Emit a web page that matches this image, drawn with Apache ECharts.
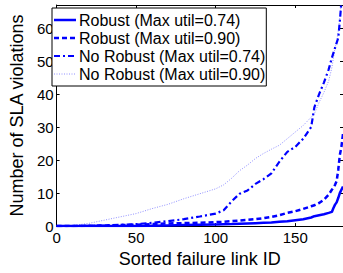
<!DOCTYPE html>
<html>
<head>
<meta charset="utf-8">
<script src="https://cdn.jsdelivr.net/npm/echarts@6/dist/echarts.min.js"></script>
<style>html,body{margin:0;padding:0;background:#fff;}#c{width:343px;height:273px;}</style>
</head>
<body>
<div id="c"></div>
<script>
var linkIds = [0,10,20,30,40,50,60,70,80,90,100,105,110,115,120,125,130,135,140,145,150,155,160,162,165,168,171,173,174,175,176,177,178,179,180];
var robust074 = [0,0,0,0,0,0,0.1,0.2,0.3,0.4,0.5,0.55,0.6,0.7,0.8,0.9,1.0,1.1,1.3,1.5,1.8,2.1,2.6,3.0,3.3,3.6,4.0,4.3,5.5,6.5,7.2,8.5,10,11,12];
var robust090 = [0,0,0.1,0.2,0.3,0.4,0.6,0.8,0.9,1.0,1.2,1.3,1.5,1.7,1.9,2.1,2.4,2.8,3.3,4.0,4.5,5.2,6.0,6.3,7.0,8.0,9.5,11,11.7,12.5,13.6,17,21.5,24,28];
var noRobust074 = [0,0,0.1,0.2,0.4,0.6,1.0,1.5,2.1,2.9,3.8,4.8,7.5,9.8,10.8,12.8,14.2,16,19.5,22.5,24,26.5,30,36,40,43.5,47.5,51,52.5,54,55.5,57,62,68,72];
var noRobust090 = [0,0.2,0.8,1.8,2.8,3.8,5.3,6.6,8.3,9.8,11.3,12.5,14.5,16.8,18.5,20.5,22,23.3,24.5,26.5,28.5,30.5,33,34,37.5,40.5,44,48,51,54,56,59,63,68,72];
var seriesNames = ['Robust (Max util=0.74)','Robust (Max util=0.90)','No Robust (Max util=0.74)','No Robust (Max util=0.90)'];

function pairs(ys){ return linkIds.map(function(x,i){ return [x, ys[i]]; }); }
var FONT = "'Liberation Sans', Arial, Helvetica, sans-serif";
var chart = echarts.init(document.getElementById('c'), null, {renderer:'svg'});
var styles = [
  {color:'#0000ff', width:2.5, type:'solid'},
  {color:'#0000ff', width:2.5, type:[5,3]},
  {color:'#0000ff', width:2.2, type:[6,3,2,3]},
  {color:'#9090ff', width:1, type:[1,1.5]}
];
var data = [robust074, robust090, noRobust074, noRobust090];
var series = data.map(function(d,i){
  return {
    name: seriesNames[i], type:'line', data: pairs(d), symbol:'none', showSymbol:false,
    lineStyle:{color:styles[i].color, width:styles[i].width, type:styles[i].type},
    itemStyle:{color:styles[i].color},
    animation:false, z: 10 - i
  };
});
var legendLeft = 52, legendTop = 8, rowH = 18, firstRow = 20;
var samples = styles.map(function(s,i){
  return {
    type:'line', z:200,
    shape:{x1:legendLeft+2, y1:firstRow+i*rowH, x2:legendLeft+24, y2:firstRow+i*rowH},
    style:{stroke:s.color, lineWidth:s.width, lineDash: s.type==='solid'?null:s.type}
  };
});
var axisLineStyle = {color:'#000', width:1};
chart.setOption({
  backgroundColor:'#fff',
  animation:false,
  textStyle:{fontFamily:FONT},
  grid:{left:49, top:5, width:295, height:228, containLabel:false},
  legend:{
    orient:'vertical', left:legendLeft, top:legendTop,
    data: seriesNames.map(function(n){ return {name:n, icon:'rect'}; }),
    itemWidth:20, itemHeight:14, itemGap:2,
    padding:[4,1,4,2],
    itemStyle:{opacity:0},
    borderColor:'#000', borderWidth:1, backgroundColor:'#fff',
    textStyle:{fontFamily:FONT, fontSize:16, color:'#000', lineHeight:16},
    selectedMode:false, z:100
  },
  graphic: samples,
  xAxis:[{
    type:'value', min:0, max:180, interval:50,
    name:'Sorted failure link ID', nameLocation:'middle', nameGap:15,
    nameTextStyle:{fontFamily:FONT, fontSize:18, color:'#000'},
    axisLine:{show:true, onZero:false, lineStyle:axisLineStyle},
    axisTick:{show:true, inside:true, length:3, lineStyle:axisLineStyle},
    axisLabel:{fontFamily:FONT, fontSize:15, color:'#000', margin:4, showMaxLabel:false},
    splitLine:{show:false}
  },{
    type:'value', position:'top', min:0, max:180, interval:50,
    axisLine:{show:true, onZero:false, lineStyle:axisLineStyle},
    axisTick:{show:true, inside:true, length:3, lineStyle:axisLineStyle},
    axisLabel:{show:false}, splitLine:{show:false}
  }],
  yAxis:[{
    type:'value', min:0, max:67, interval:10,
    name:'Number of SLA violations', nameLocation:'middle', nameGap:24, nameRotate:90,
    nameTextStyle:{fontFamily:FONT, fontSize:18, color:'#000'},
    axisLine:{show:true, onZero:false, lineStyle:axisLineStyle},
    axisTick:{show:true, inside:true, length:3, lineStyle:axisLineStyle},
    axisLabel:{fontFamily:FONT, fontSize:15, color:'#000', margin:3, showMaxLabel:false},
    splitLine:{show:false}
  },{
    type:'value', position:'right', min:0, max:67, interval:10,
    axisLine:{show:true, onZero:false, lineStyle:axisLineStyle},
    axisTick:{show:true, inside:true, length:3, lineStyle:axisLineStyle},
    axisLabel:{show:false}, splitLine:{show:false}
  }],
  series: series
});
</script>
</body>
</html>
